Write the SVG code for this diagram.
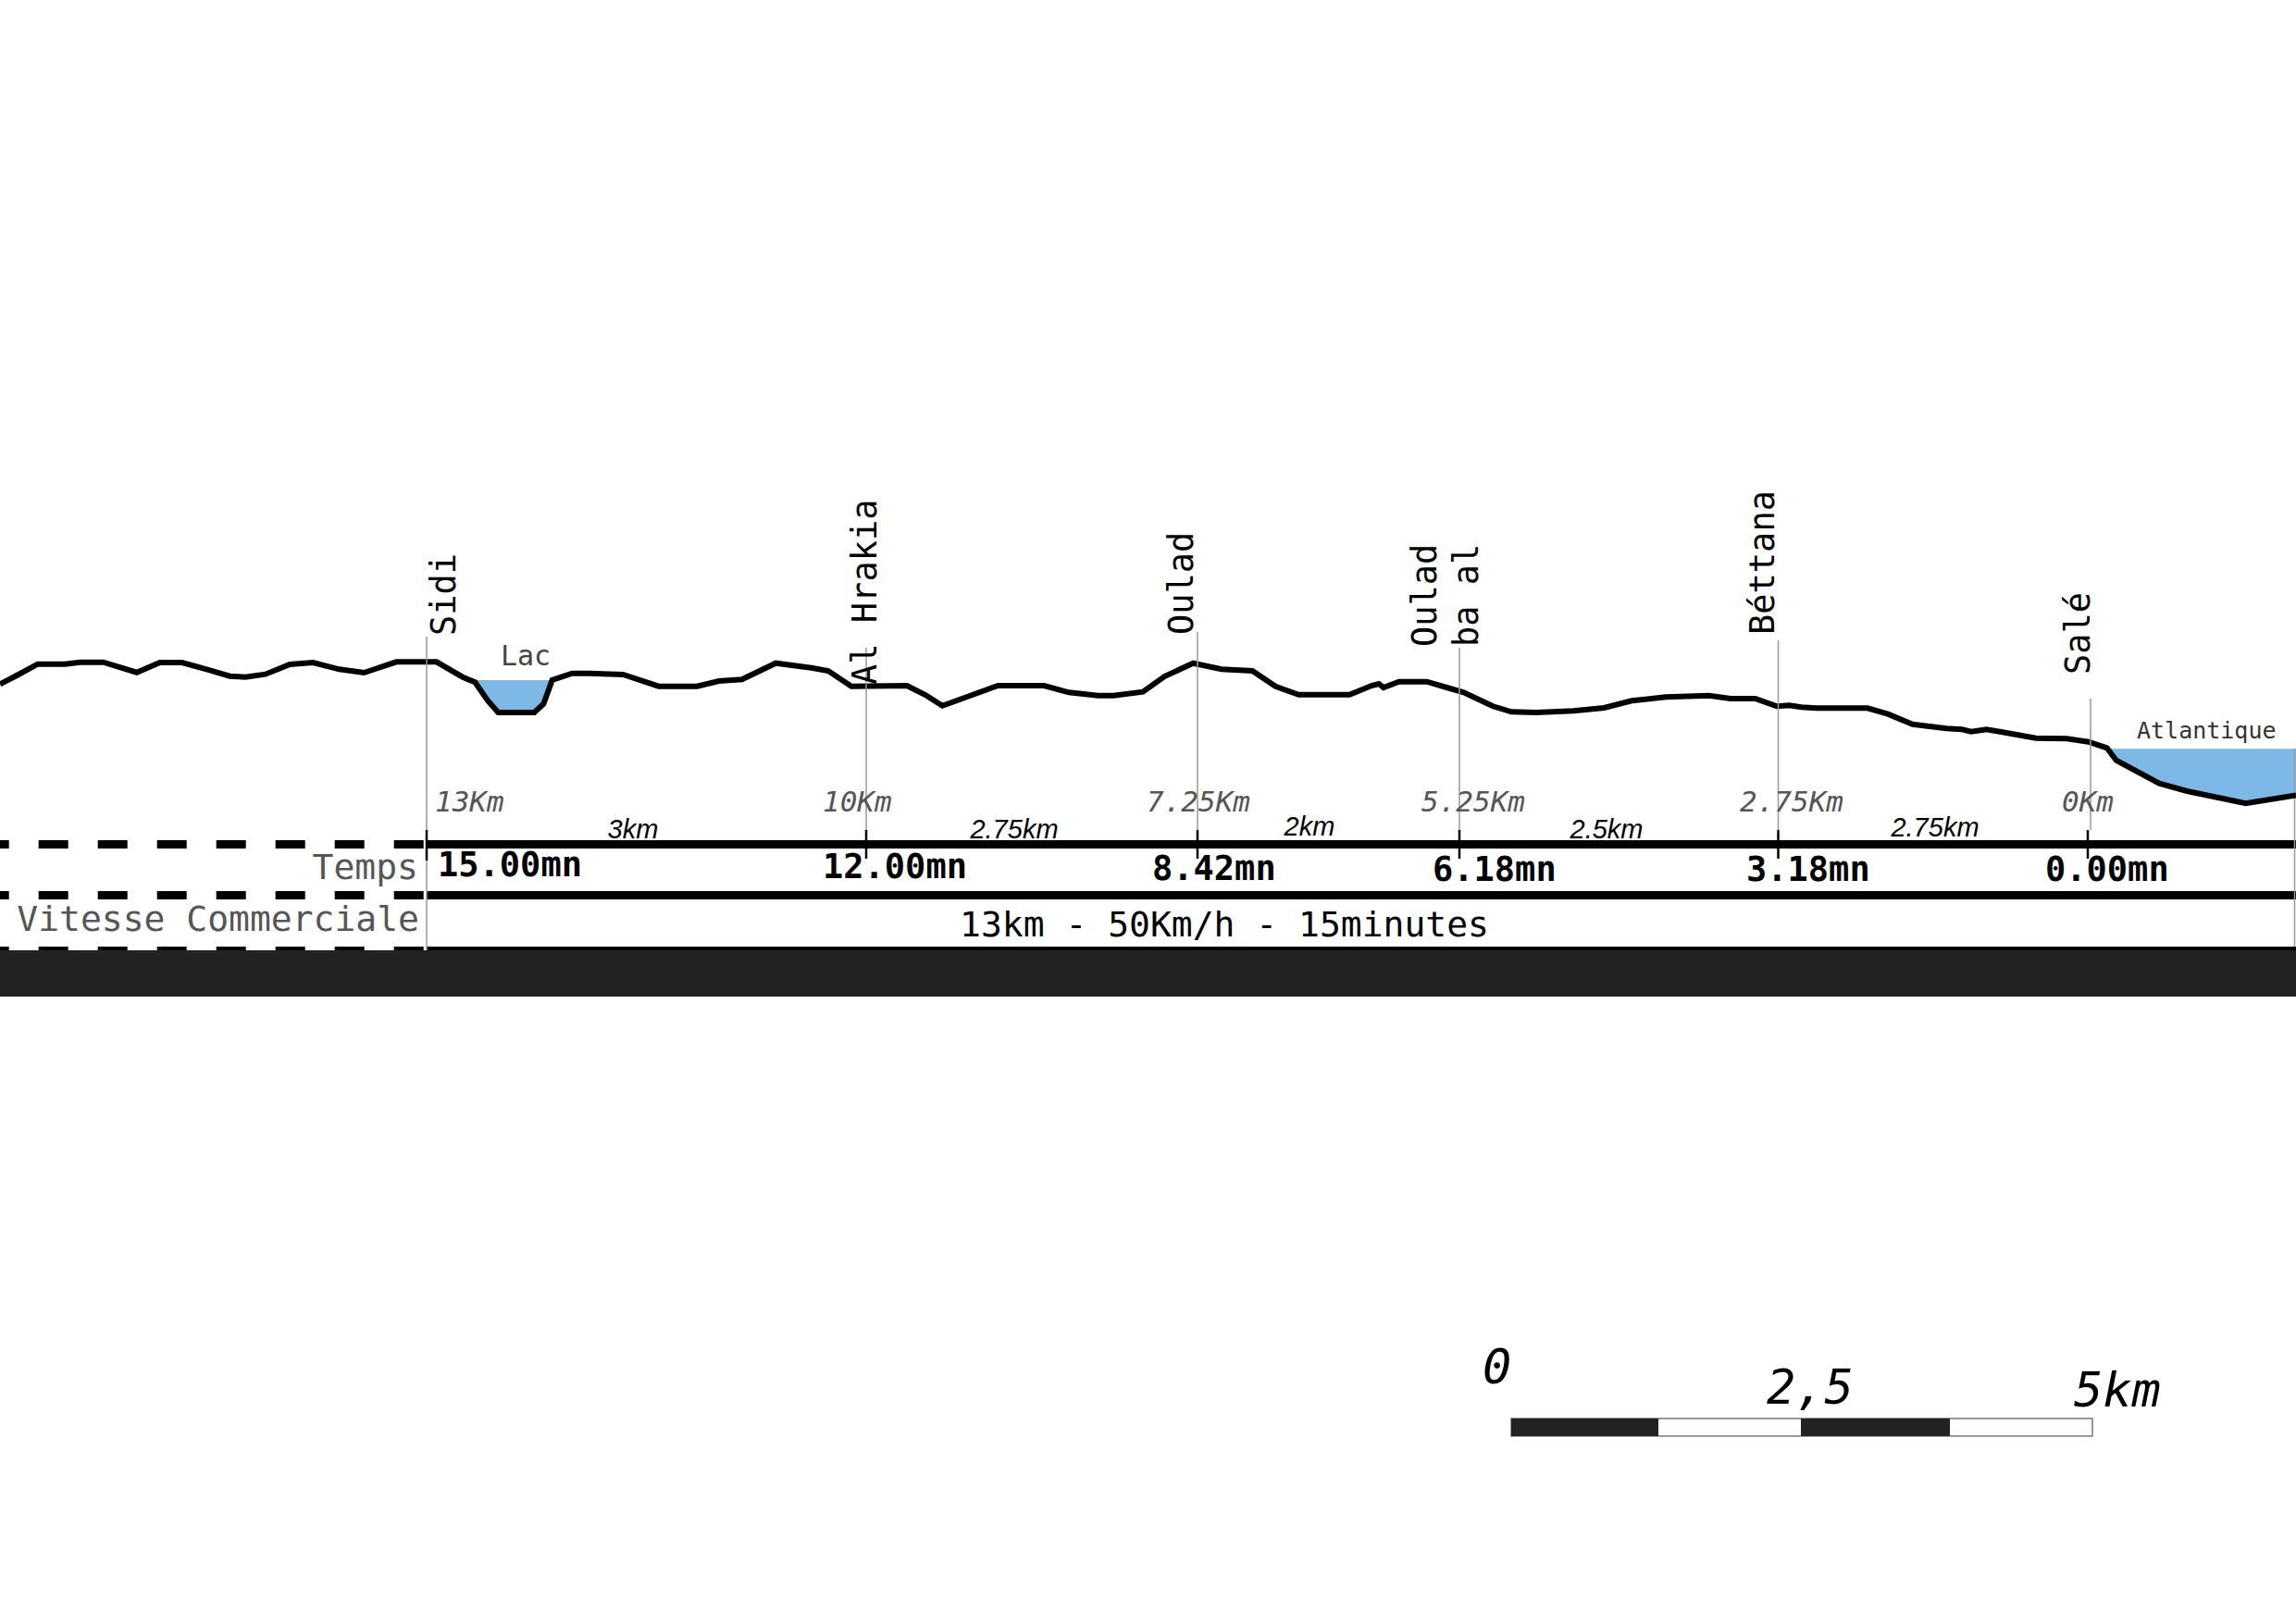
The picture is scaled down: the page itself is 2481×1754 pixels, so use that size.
<svg xmlns="http://www.w3.org/2000/svg" width="2481" height="1754" viewBox="0 0 2481 1754">
<style>
.mono{font-family:"DejaVu Sans Mono","Liberation Mono",monospace}
.st{font-size:37px;fill:#000}
.km{font-size:31px;font-style:italic;fill:#555}
.tm{font-size:37px;font-weight:bold;fill:#000}
.seg{font-family:"Liberation Sans",Arial,sans-serif;font-size:29px;font-style:italic;fill:#000;text-anchor:middle}
.lbl{font-size:38px;fill:#555;text-anchor:end}
.vl{stroke:#999;stroke-width:1.5;fill:none}
.tick{stroke:#000;stroke-width:2.5}
.thick{stroke:#000;stroke-width:9}
.dash{stroke:#000;stroke-dasharray:32 32;stroke-dashoffset:22.3}
.water{fill:#7db8e6}
.sc{font-size:52px;font-style:italic;fill:#000}
</style>
<rect width="2481" height="1754" fill="#fff"/>

<g id="water">
<polygon class="water" points="508,735 513.3,737.3 526.7,756.7 538.3,770 577.3,770 587.3,760.7 596.7,735"/>
<polygon class="water" points="2277.5,809.3 2286.7,821.7 2333.3,846.7 2363.3,855 2426.7,868.3 2481,859.5 2481,809.3"/>
<text class="mono" x="541" y="719" font-size="30" fill="#444">Lac</text>
<text class="mono" x="2309" y="798" font-size="25" fill="#333">Atlantique</text>
</g>

<g id="bands">
<rect x="0" y="1023" width="2481" height="54" fill="#222"/>
<line x1="461" y1="1025" x2="2481" y2="1025" stroke="#000" stroke-width="4"/>
<rect x="0" y="1023" width="461" height="4" fill="#fff"/>
<line class="dash" x1="0" y1="1025" x2="461" y2="1025" stroke-width="4"/>
<line class="thick" x1="461" y1="912.5" x2="2481" y2="912.5"/>
<line class="thick" x1="461" y1="967.5" x2="2481" y2="967.5"/>
<line class="dash" x1="0" y1="912.5" x2="461" y2="912.5" stroke-width="9"/>
<line class="dash" x1="0" y1="967.5" x2="461" y2="967.5" stroke-width="9"/>
<line class="vl" x1="2479.5" y1="809" x2="2479.5" y2="1023"/>
<text class="mono lbl" x="452" y="950">Temps</text>
<text class="mono lbl" x="453" y="1006">Vitesse Commerciale</text>
<text class="mono" x="1037" y="1012" font-size="38" fill="#000">13km - 50Km/h - 15minutes</text>
</g>

<g id="connectors">
<polyline fill="none" stroke="#000" stroke-width="6" points="0,739.3 20,729 40.7,717.7 70,717.7 86.7,715.7 111.7,715.7 147.7,726.7 172.7,716 196.7,716 223.3,723.3 248.3,730.7 265,731.7 286.7,728.7 313.3,718 338.3,716 366.7,723.3 393.3,727 428.3,715.3 471.7,715.3 500,731.7 513.3,737.3 526.7,756.7 538.3,770 577.3,770 587.3,760.7 596.7,735 618.3,727.7 636.7,727.7 673.3,729 711.7,741.7 753.3,741.7 776.7,736 801.7,734.3 838.3,716.7 876.7,721.7 895,725 920,741.7 980,741 1000,751 1018.3,762.7 1078.3,741 1128.3,741 1155,748.3 1186.7,751.7 1203.3,751.7 1235,747.7 1258.3,731 1289.3,716.7 1320,723.3 1353.3,725 1378.3,741.7 1403.3,750.7 1458.3,750.7 1482,741 1490,739 1495,743 1511.7,736.7 1541.7,736.7 1566.7,744 1581.7,748.3 1613.3,763.3 1633.3,769.3 1660,770 1700,768.3 1733.3,765 1763.3,757.3 1800,753.3 1846.7,751.7 1870,755 1896.7,755 1920,763.3 1933.3,762.3 1946.7,764.3 1963.3,765.3 2018,765.3 2040,771.7 2066.7,782.7 2103.3,787.3 2120,788.3 2130,790.7 2146.7,788.3 2166.7,791.7 2200,797.7 2233.3,798.3 2256.7,801.7 2276.7,808.3 2286.7,821.7 2333.3,846.7 2363.3,855 2426.7,868.3 2481,859.5"/>
<text class="seg" x="684" y="906">3km</text>
<text class="seg" x="1096" y="906">2.75km</text>
<text class="seg" x="1415" y="903">2km</text>
<text class="seg" x="1736" y="906">2.5km</text>
<text class="seg" x="2091" y="904">2.75km</text>
</g>

<g id="sidi">
<line class="vl" x1="461" y1="688" x2="461" y2="1027"/>
<line class="tick" x1="461" y1="897" x2="461" y2="930"/>
<text class="mono st" transform="translate(492,687) rotate(-90)">Sidi</text>
<text class="mono km" x="470" y="877">13Km</text>
<text class="mono tm" x="473" y="947">15.00mn</text>
</g>

<g id="al-hrakia">
<line class="vl" x1="936" y1="700" x2="936" y2="897"/>
<line class="tick" x1="936" y1="897" x2="936" y2="928"/>
<text class="mono st" transform="translate(947,740) rotate(-90)">Al Hrakia</text>
<text class="mono km" x="889" y="877">10Km</text>
<text class="mono tm" x="889" y="949">12.00mn</text>
</g>

<g id="oulad">
<line class="vl" x1="1294" y1="683" x2="1294" y2="897"/>
<line class="tick" x1="1294" y1="897" x2="1294" y2="928"/>
<text class="mono st" transform="translate(1289,686) rotate(-90)">Oulad</text>
<text class="mono km" x="1239" y="877">7.25Km</text>
<text class="mono tm" x="1245" y="951">8.42mn</text>
</g>

<g id="oulad-ba-al">
<line class="vl" x1="1577" y1="700" x2="1577" y2="897"/>
<line class="tick" x1="1577" y1="897" x2="1577" y2="928"/>
<text class="mono st" transform="translate(1552,699) rotate(-90)">Oulad</text>
<text class="mono st" transform="translate(1597,699) rotate(-90)">ba al</text>
<text class="mono km" x="1536" y="877">5.25Km</text>
<text class="mono tm" x="1548" y="952">6.18mn</text>
</g>

<g id="bettana">
<line class="vl" x1="1921.5" y1="692" x2="1921.5" y2="897"/>
<line class="tick" x1="1921.5" y1="897" x2="1921.5" y2="928"/>
<text class="mono st" transform="translate(1917,686) rotate(-90)">Béttana</text>
<text class="mono km" x="1880" y="877">2.75Km</text>
<text class="mono tm" x="1887" y="952">3.18mn</text>
</g>

<g id="sale">
<line class="vl" x1="2259" y1="755" x2="2259" y2="897"/>
<line class="tick" x1="2256" y1="897" x2="2256" y2="928"/>
<text class="mono st" transform="translate(2258,729) rotate(-90)">Salé</text>
<text class="mono km" x="2228" y="877">0Km</text>
<text class="mono tm" x="2210" y="952">0.00mn</text>
</g>

<g id="scale-bar">
<rect x="1633" y="1533" width="628" height="19" fill="#fff" stroke="#777" stroke-width="1.5"/>
<rect x="1633" y="1533" width="159" height="19" fill="#222"/>
<rect x="1946" y="1533" width="161" height="19" fill="#222"/>
<text class="mono sc" x="1602" y="1495">0</text>
<text class="mono sc" x="1909" y="1517">2,5</text>
<text class="mono sc" x="2241" y="1520">5km</text>
</g>
</svg>
